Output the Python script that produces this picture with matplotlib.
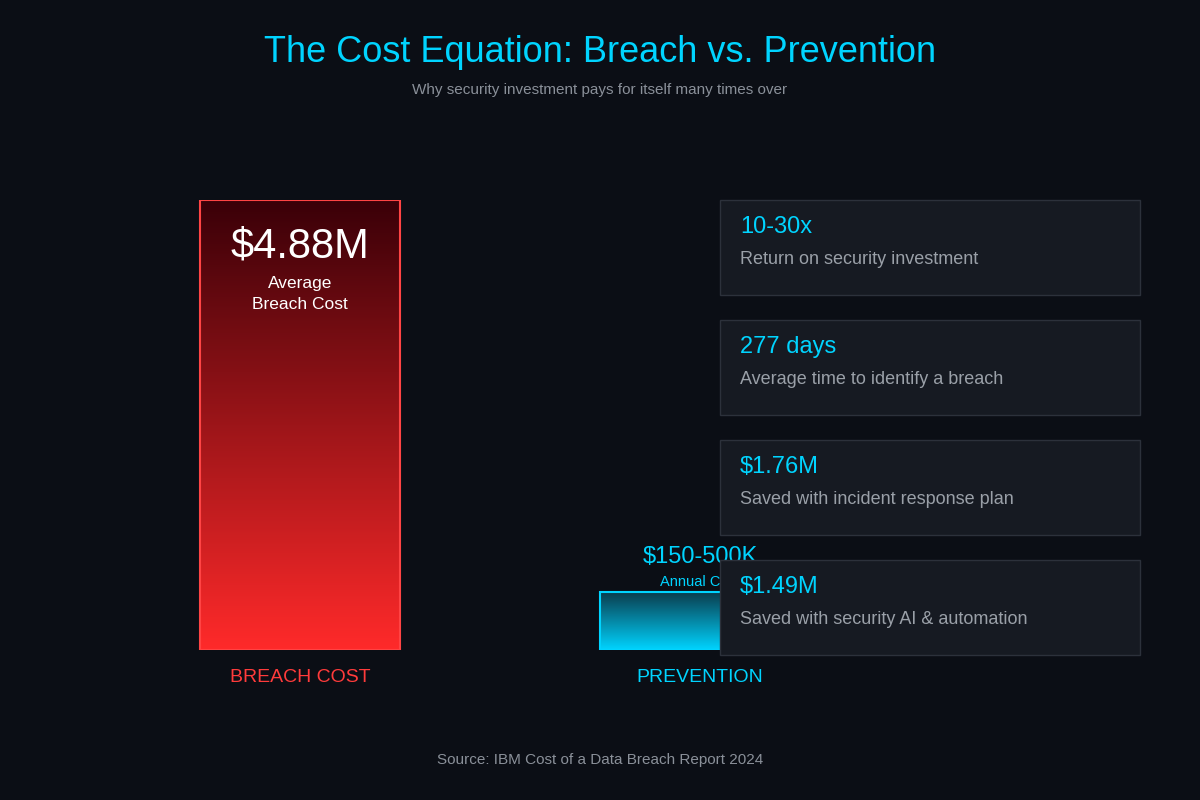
import matplotlib
matplotlib.use("Agg")
import matplotlib.pyplot as plt
from matplotlib.patches import Rectangle
import numpy as np

plt.rcParams['font.family'] = ['Liberation Sans', 'DejaVu Sans']

# --- data ---
bar_labels = ["BREACH COST", "PREVENTION"]
bar_values = [4.88, 0.63]          # bar heights ($M, prevention drawn at its visual height)
bar_value_text = ["$4.88M", "$150-500K"]
bar_sub_text = ["Average\nBreach Cost", "Annual Cost"]
stat_values = ["10-30x", "277 days", "$1.76M", "$1.49M"]
stat_labels = ["Return on security investment",
               "Average time to identify a breach",
               "Saved with incident response plan",
               "Saved with security AI & automation"]

BG = "#0b0e15"
CYAN = "#00d4ff"
RED = "#ff3b3b"

fig = plt.figure(figsize=(12, 8), dpi=100, facecolor=BG)

# bar axes: pixel x, value y; bottom at 650px, top of tallest bar at 200px
bax = fig.add_axes([0, 150 / 800, 1, 450 / 800], zorder=1)
bax.set_xlim(0, 1200)
bax.set_ylim(0, bar_values[0])
bax.axis("off")
centers = [300, 700]
grads = [("#3a0008", "#ff2a2a", "#ff4444"), ("#0a3a4a", "#00d4ff", "#00d4ff")]
for cx, v, (top, bot, edge) in zip(centers, bar_values, grads):
    bars = bax.bar(cx, v, width=200, color="none", edgecolor=edge, linewidth=1.5, zorder=3)
    c1 = np.array(matplotlib.colors.to_rgb(top))
    c2 = np.array(matplotlib.colors.to_rgb(bot))
    t = np.linspace(0, 1, 256)[:, None]
    img = (c1 * t + c2 * (1 - t))[:, None, :]
    im = bax.imshow(img, extent=[cx - 100, cx + 100, 0, v], origin="lower",
                    aspect="auto", zorder=2)
    im.set_clip_path(bars[0])
bax.set_xlim(0, 1200)
bax.set_ylim(0, bar_values[0])

# overlay in pixel coords
ax = fig.add_axes([0, 0, 1, 1], zorder=2)
ax.set_xlim(0, 1200)
ax.set_ylim(800, 0)
ax.axis("off")
ax.patch.set_alpha(0)

ax.text(600, 52, "The Cost Equation: Breach vs. Prevention", color=CYAN,
        fontsize=26, ha="center", va="center")
ax.text(600, 90, "Why security investment pays for itself many times over",
        color="#8a9099", fontsize=11, ha="center", va="center")

# breach labels
ax.text(300, 246, bar_value_text[0], color="white", fontsize=30, ha="center", va="center")
ax.text(300, 294, bar_sub_text[0], color="white", fontsize=12.5, ha="center",
        va="center", linespacing=1.5)
# prevention labels (partly under the card)
ax.text(700, 557, bar_value_text[1], color=CYAN, fontsize=17, ha="center", va="center", zorder=1)
ax.text(700, 582, bar_sub_text[1], color=CYAN, fontsize=10.5, ha="center", va="center", zorder=1)

ax.text(300, 678, bar_labels[0], color=RED, fontsize=14, ha="center", va="center")
ax.text(700, 678, bar_labels[1], color=CYAN, fontsize=14, ha="center", va="center")

for i, (sv, sl) in enumerate(zip(stat_values, stat_labels)):
    y0 = 200 + i * 120
    ax.add_patch(Rectangle((720, y0), 420, 95, facecolor="#161a22",
                           edgecolor="#2c313b", linewidth=1, zorder=3))
    ax.text(740, y0 + 27, sv, color=CYAN, fontsize=17, va="center", zorder=4)
    ax.text(740, y0 + 60, sl, color="#9aa0a8", fontsize=13, va="center", zorder=4)

ax.text(600, 760, "Source: IBM Cost of a Data Breach Report 2024", color="#8a9099",
        fontsize=11, ha="center", va="center")

fig.savefig("out.png", dpi=100, facecolor=BG)
